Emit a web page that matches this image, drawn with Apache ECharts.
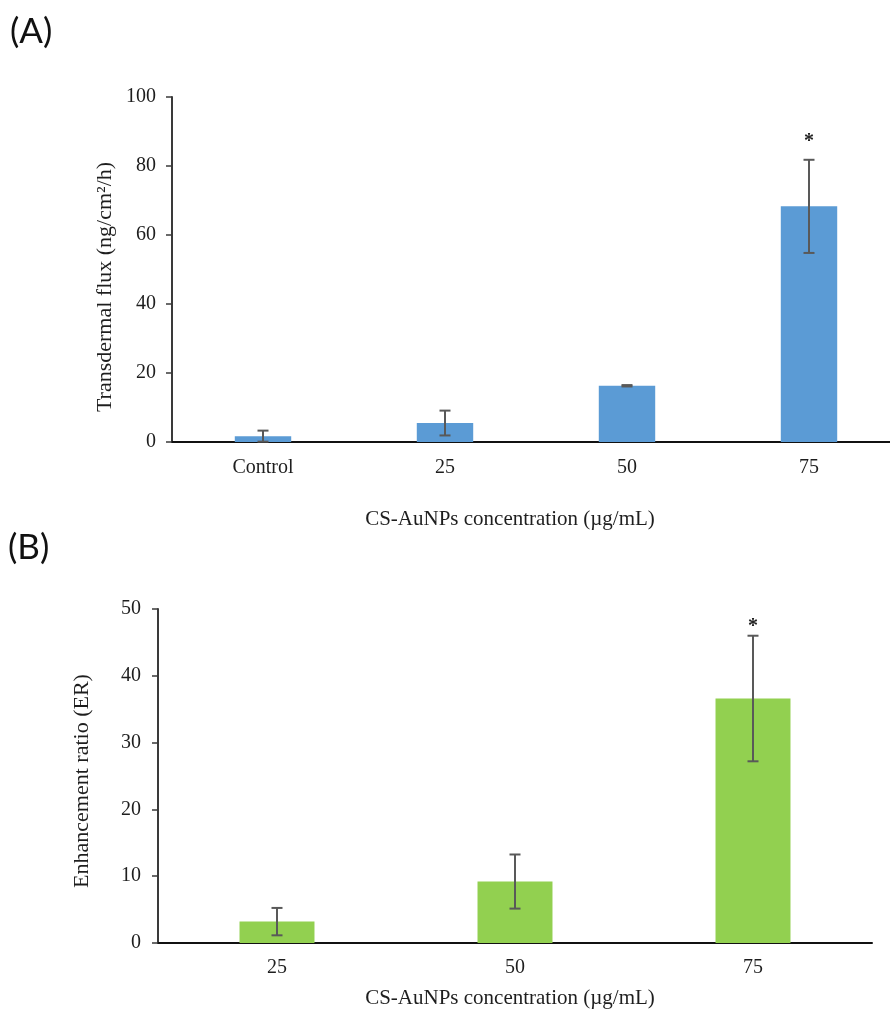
<!DOCTYPE html>
<html>
<head>
<meta charset="utf-8">
<script src="https://cdn.jsdelivr.net/npm/echarts@6/dist/echarts.min.js"></script>
<style>
  html, body { margin: 0; padding: 0; background: #fff; }
  #chart { width: 890px; height: 1012px; }
</style>
</head>
<body>
<div id="chart"></div>
<script>
// Panel A: transdermal flux by CS-AuNPs concentration
const fluxCategories = ['Control', '25', '50', '75'];
const fluxMean = [1.7, 5.5, 16.3, 68.3];
const fluxSD = [1.6, 3.6, 0.2, 13.5];
const fluxSig = ['', '', '', '*'];
const fluxTicks = [0, 20, 40, 60, 80, 100];

// Panel B: enhancement ratio by CS-AuNPs concentration
const erCategories = ['25', '50', '75'];
const erMean = [3.2, 9.2, 36.6];
const erSD = [2.05, 4.05, 9.4];
const erSig = ['', '', '*'];
const erTicks = [0, 10, 20, 30, 40, 50];

const SERIF = '"Liberation Serif", "Times New Roman", serif';
const TEXT = '#1e1e1e';

function errorSeries(means, sds, sig, axisIdx, starGap) {
  return {
    type: 'custom',
    xAxisIndex: axisIdx,
    yAxisIndex: axisIdx,
    z: 5,
    data: means.map((m, i) => [i, m - sds[i], m + sds[i]]),
    renderItem(params, api) {
      const i = api.value(0);
      const top = api.coord([i, api.value(2)]);
      const bot = api.coord([i, api.value(1)]);
      const hw = 5.5;
      const st = { stroke: '#595959', lineWidth: 2 };
      const children = [
        { type: 'line', shape: { x1: top[0], y1: top[1], x2: bot[0], y2: bot[1] }, style: st },
        { type: 'line', shape: { x1: top[0] - hw, y1: top[1], x2: top[0] + hw, y2: top[1] }, style: st },
        { type: 'line', shape: { x1: bot[0] - hw, y1: bot[1], x2: bot[0] + hw, y2: bot[1] }, style: st }
      ];
      const mark = sig[params.dataIndex];
      if (mark) {
        children.push({
          type: 'text',
          x: top[0], y: top[1] - starGap,
          style: {
            text: mark, fill: TEXT, font: 'bold 20px ' + SERIF,
            textAlign: 'center', textVerticalAlign: 'middle'
          }
        });
      }
      return { type: 'group', children };
    }
  };
}

function valueAxis(gridIndex, ticks, labelMargin) {
  return {
    type: 'value',
    gridIndex,
    min: ticks[0],
    max: ticks[ticks.length - 1],
    interval: ticks[1] - ticks[0],
    axisLine: { show: true, lineStyle: { color: '#3a3a3a', width: 2 } },
    axisTick: { show: true, inside: false, length: 6, lineStyle: { color: '#3a3a3a', width: 1.5 } },
    splitLine: { show: false },
    axisLabel: { color: TEXT, fontFamily: SERIF, fontSize: 20, margin: labelMargin }
  };
}

function categoryAxis(gridIndex, cats, labelMargin) {
  return {
    type: 'category',
    gridIndex,
    data: cats,
    axisLine: { show: true, onZero: false, lineStyle: { color: '#111', width: 2 } },
    axisTick: { show: false },
    axisLabel: { color: TEXT, fontFamily: SERIF, fontSize: 20, margin: labelMargin }
  };
}

const chart = echarts.init(document.getElementById('chart'), null, { renderer: 'canvas' });

chart.setOption({
  backgroundColor: '#ffffff',
  animation: false,
  grid: [
    { left: 172, top: 97, width: 728, height: 345, outerBoundsMode: 'none', containLabel: false },
    { left: 158, top: 609, width: 714, height: 334, outerBoundsMode: 'none', containLabel: false }
  ],
  xAxis: [
    categoryAxis(0, fluxCategories, 16),
    categoryAxis(1, erCategories, 15)
  ],
  yAxis: [
    valueAxis(0, fluxTicks, 16),
    valueAxis(1, erTicks, 17)
  ],
  series: [
    {
      type: 'bar', xAxisIndex: 0, yAxisIndex: 0,
      data: fluxMean, barWidth: '31%',
      itemStyle: { color: '#5B9BD5' }
    },
    errorSeries(fluxMean, fluxSD, fluxSig, 0, 18),
    {
      type: 'bar', xAxisIndex: 1, yAxisIndex: 1,
      data: erMean, barWidth: '31.5%',
      itemStyle: { color: '#92D050' }
    },
    errorSeries(erMean, erSD, erSig, 1, 9)
  ],
  graphic: [
    { type: 'text', left: 10, top: 14,
      style: { text: '(A)', fill: '#111', font: '35px Lato, "Open Sans", sans-serif' } },
    { type: 'text', left: 8, top: 530,
      style: { text: '(B)', fill: '#111', font: '35px Lato, "Open Sans", sans-serif' } },
    { type: 'text', x: 105, y: 287, rotation: Math.PI / 2,
      style: { text: 'Transdermal flux (ng/cm²/h)', fill: TEXT, font: '22px ' + SERIF,
               textAlign: 'center', textVerticalAlign: 'middle' } },
    { type: 'text', x: 510, y: 519,
      style: { text: 'CS-AuNPs concentration (µg/mL)', fill: TEXT, font: '21px ' + SERIF,
               textAlign: 'center', textVerticalAlign: 'middle' } },
    { type: 'text', x: 82, y: 781, rotation: Math.PI / 2,
      style: { text: 'Enhancement ratio (ER)', fill: TEXT, font: '22px ' + SERIF,
               textAlign: 'center', textVerticalAlign: 'middle' } },
    { type: 'text', x: 510, y: 998,
      style: { text: 'CS-AuNPs concentration (µg/mL)', fill: TEXT, font: '21px ' + SERIF,
               textAlign: 'center', textVerticalAlign: 'middle' } }
  ]
});
</script>
</body>
</html>
